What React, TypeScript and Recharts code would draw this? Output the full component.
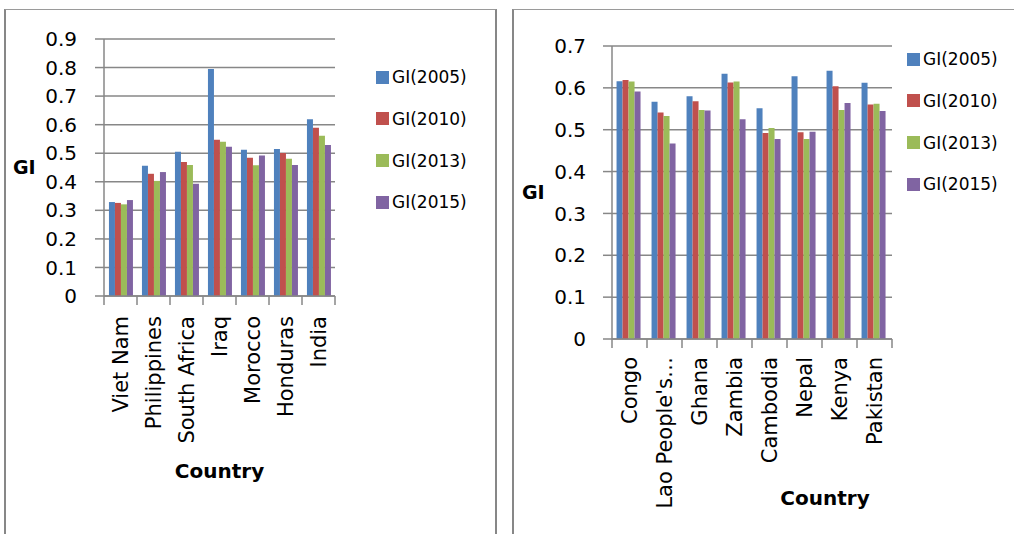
import React from "react";
import { BarChart, Bar, XAxis, YAxis, CartesianGrid } from "recharts";

const countriesA = ["Viet Nam", "Philippines", "South Africa", "Iraq", "Morocco", "Honduras", "India"];
const gi2005A = [0.329, 0.456, 0.505, 0.795, 0.512, 0.515, 0.619];
const gi2010A = [0.326, 0.428, 0.469, 0.547, 0.484, 0.501, 0.589];
const gi2013A = [0.321, 0.403, 0.459, 0.54, 0.458, 0.481, 0.561];
const gi2015A = [0.336, 0.434, 0.393, 0.523, 0.492, 0.459, 0.529];
const yTicksA = [0, 0.1, 0.2, 0.3, 0.4, 0.5, 0.6, 0.7, 0.8, 0.9];

const countriesB = ["Congo", "Lao People's Democratic Republic", "Ghana", "Zambia", "Cambodia", "Nepal", "Kenya", "Pakistan"];
const gi2005B = [0.616, 0.567, 0.58, 0.634, 0.551, 0.628, 0.641, 0.612];
const gi2010B = [0.619, 0.541, 0.568, 0.613, 0.492, 0.494, 0.604, 0.56];
const gi2013B = [0.615, 0.533, 0.547, 0.615, 0.504, 0.478, 0.547, 0.562];
const gi2015B = [0.591, 0.467, 0.546, 0.525, 0.478, 0.495, 0.564, 0.545];
const yTicksB = [0, 0.1, 0.2, 0.3, 0.4, 0.5, 0.6, 0.7];

const seriesNames = ["GI(2005)", "GI(2010)", "GI(2013)", "GI(2015)"];
const seriesColors = ["#4F81BD", "#C0504D", "#9BBB59", "#8064A2"];

const GRID = "#878787";
const FONT = "'DejaVu Sans', sans-serif";

function buildRows(countries: string[], cols: number[][]) {
  return countries.map((c, i) => {
    const row: any = { country: c };
    seriesNames.forEach((s, k) => (row[s] = cols[k][i]));
    return row;
  });
}

const dataA = buildRows(countriesA, [gi2005A, gi2010A, gi2013A, gi2015A]);
const dataB = buildRows(countriesB, [gi2005B, gi2010B, gi2013B, gi2015B]);

const shortName = (s: string) => (s.length > 14 ? s.slice(0, 12) + "…" : s);
const fmtY = (v: number) => (v === 0 ? "0" : v.toFixed(1));

function CountryTick(props: any) {
  const { x, y, payload, index, count, fallbackHalf, gap } = props;
  const half = payload && payload.offset ? payload.offset : fallbackHalf;
  return (
    <g>
      <line x1={x - half} x2={x - half} y1={y} y2={y + 9} stroke={GRID} strokeWidth={1.5} />
      {index === count - 1 && (
        <line x1={x + half} x2={x + half} y1={y} y2={y + 9} stroke={GRID} strokeWidth={1.5} />
      )}
      <text
        x={x}
        y={y + gap}
        transform={`rotate(-90, ${x}, ${y + gap})`}
        textAnchor="end"
        dominantBaseline="central"
        fontSize={21}
        fill="#000"
      >
        {shortName(payload.value)}
      </text>
    </g>
  );
}

function GIPanel({
  data,
  ticks,
  width,
  plotLeft,
  plotRight,
  plotTop,
  plotBottom,
  giOffset,
  countryShift,
  countryDrop,
  tickGap,
  tickMargin,
  catGap,
}: any) {
  const n = data.length;
  const half = (plotRight - plotLeft) / n / 2;
  const countryLabel = (p: any) => {
    const vb = p.viewBox || { x: plotLeft, y: plotBottom, width: plotRight - plotLeft };
    return (
      <text
        x={vb.x + vb.width / 2 + countryShift}
        y={vb.y + countryDrop}
        textAnchor="middle"
        fontSize={20}
        fontWeight={700}
        fill="#000"
      >
        Country
      </text>
    );
  };
  return (
    <BarChart
      width={width}
      height={534}
      data={data}
      margin={{ top: plotTop, right: width - plotRight, left: 0, bottom: 0 }}
      barCategoryGap={catGap}
      barGap={0}
    >
      <CartesianGrid vertical={false} stroke={GRID} strokeWidth={1.5} />
      <XAxis
        dataKey="country"
        interval={0}
        height={534 - plotBottom}
        axisLine={{ stroke: GRID, strokeWidth: 1.5 }}
        tickLine={false}
        tickSize={0}
        tickMargin={0}
        tick={(p: any) => <CountryTick {...p} count={n} fallbackHalf={half} gap={tickGap} />}
        label={{ value: "Country", content: countryLabel }}
      />
      <YAxis
        width={plotLeft}
        domain={[0, ticks[ticks.length - 1]]}
        ticks={ticks}
        interval={0}
        tickFormatter={fmtY}
        tick={{ fontSize: 20, fill: "#000" }}
        tickSize={9}
        tickMargin={tickMargin}
        axisLine={{ stroke: GRID, strokeWidth: 1.5 }}
        tickLine={{ stroke: GRID, strokeWidth: 1.5 }}
        label={{
          value: "GI",
          position: "insideLeft",
          offset: giOffset,
          fontSize: 19,
          fontWeight: 700,
          fill: "#000",
        }}
      />
      {seriesNames.map((s, k) => (
        <Bar key={s} dataKey={s} fill={seriesColors[k]} isAnimationActive={false} />
      ))}
    </BarChart>
  );
}

function GILegend({ left, top }: { left: number; top: number }) {
  return (
    <div style={{ position: "absolute", left, top }}>
      {seriesNames.map((s, k) => (
        <div
          key={s}
          style={{ position: "absolute", left: 0, top: k * 41.8 - 21, height: 42, display: "flex", alignItems: "center", whiteSpace: "nowrap" }}
        >
          <span style={{ display: "inline-block", width: 13, height: 13, background: seriesColors[k], marginRight: 3 }} />
          <span style={{ fontSize: 17, color: "#000" }}>{s}</span>
        </div>
      ))}
    </div>
  );
}

export default function App() {
  return (
    <div
      style={{
        position: "absolute",
        left: 0,
        top: 0,
        width: 1014,
        height: 534,
        overflow: "hidden",
        background: "#fff",
        fontFamily: FONT,
      }}
    >
      <div
        style={{
          position: "absolute",
          left: 4,
          top: 9,
          width: 489,
          height: 600,
          borderTop: `1px solid #9a9a9a`,
          borderLeft: `2px solid ${GRID}`,
          borderRight: `2px solid ${GRID}`,
        }}
      />
      <div
        style={{
          position: "absolute",
          left: 512,
          top: 9,
          width: 600,
          height: 600,
          borderTop: `1px solid #9a9a9a`,
          borderLeft: `2px solid ${GRID}`,
        }}
      />
      <div style={{ position: "absolute", left: 0, top: 0 }}>
        <GIPanel
          data={dataA}
          ticks={yTicksA}
          width={360}
          plotLeft={104}
          plotRight={335}
          plotTop={39}
          plotBottom={296}
          giOffset={13}
          countryShift={0}
          countryDrop={182}
          tickGap={20}
          tickMargin={18}
          catGap="15%"
        />
      </div>
      <GILegend left={376} top={77} />
      <div style={{ position: "absolute", left: 500, top: 0 }}>
        <GIPanel
          data={dataB}
          ticks={yTicksB}
          width={420}
          plotLeft={112}
          plotRight={392}
          plotTop={46}
          plotBottom={339}
          giOffset={22}
          countryShift={73}
          countryDrop={166}
          tickGap={18}
          tickMargin={17}
          catGap="13%"
        />
      </div>
      <GILegend left={907} top={59} />
    </div>
  );
}
